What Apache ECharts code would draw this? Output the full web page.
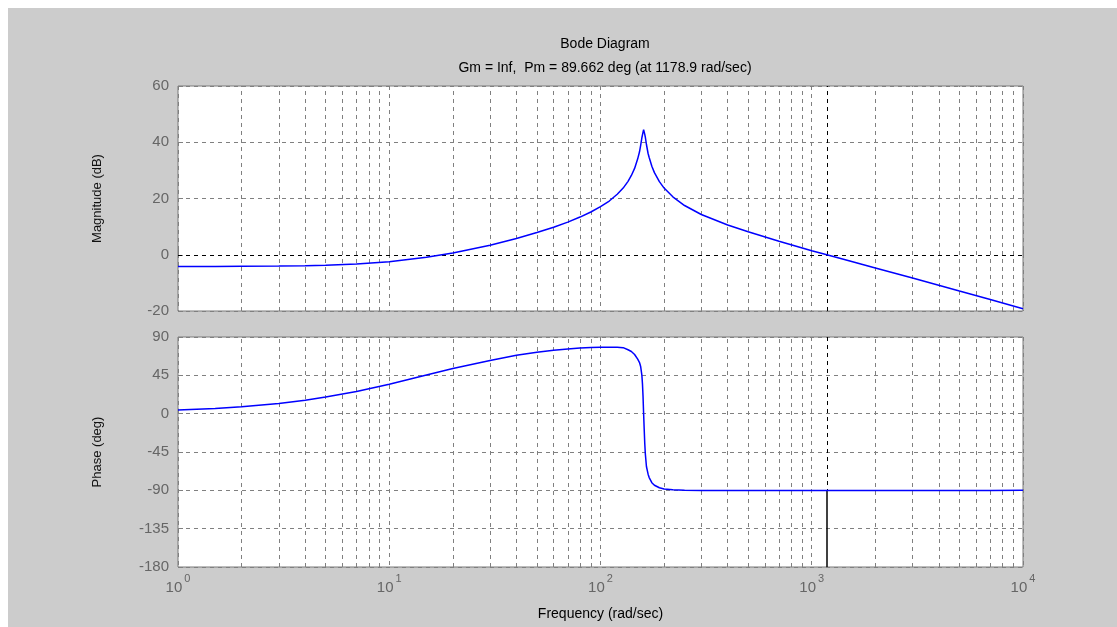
<!DOCTYPE html>
<html>
<head>
<meta charset="utf-8">
<script src="https://cdn.jsdelivr.net/npm/echarts@6/dist/echarts.min.js"></script>
<style>
  html, body { margin: 0; padding: 0; background: #ffffff; }
  #bg { position: absolute; left: 8px; top: 8px; width: 1109px; height: 619px; background: #cccccc; }
  #chart { position: absolute; left: 0; top: 0; width: 1117px; height: 627px; }
</style>
</head>
<body>
<div id="bg"></div>
<div id="chart"></div>
<script>
// ---- data ----
const freqs = [1, 1.5, 2, 3, 4, 5, 7, 10, 15, 20, 30, 40, 50, 60, 70, 80, 90, 100, 110, 120, 128, 135, 140, 145, 150, 153, 155, 157, 158, 159, 160, 161, 162, 163, 165, 168, 170, 175, 180, 190, 200, 220, 250, 300, 400, 500, 700, 1000, 1178.9, 1500, 2000, 3000, 5000, 7000, 10000];
const magnitudeDb = [-4.2, -4.15, -4.1, -4.0, -3.9, -3.7, -3.25, -2.45, -0.9, 0.65, 3.4, 5.8, 7.9, 9.8, 11.6, 13.4, 15.2, 17.1, 19.1, 21.5, 23.7, 26.1, 28.2, 30.7, 34.1, 36.6, 39.0, 41.6, 42.6, 43.6, 44.5, 43.8, 42.8, 41.8, 39.2, 36.0, 34.6, 31.5, 29.2, 26.0, 23.7, 20.6, 17.5, 14.3, 10.6, 8.2, 4.8, 1.4, 0, -2.1, -4.7, -8.3, -12.9, -15.9, -19.2];
const phaseDeg = [4.3, 6.2, 8.2, 12, 15.8, 19.5, 26, 34.5, 45.5, 53, 62.5, 68.5, 72, 74.5, 76, 77, 77.8, 78, 78, 78, 77.5, 75, 73, 69.5, 64, 60, 55, 45, 35, 20, 0, -18, -35, -47, -62, -71, -75, -81, -84, -87, -88.5, -89.3, -89.8, -90.1, -90.3, -90.3, -90.3, -90.3, -90.34, -90.3, -90.2, -90.2, -90.1, -90.1, -90.0];
const magTicks = [-20, 0, 20, 40, 60];
const phaseTicks = [-180, -135, -90, -45, 0, 45, 90];
const decadeTicks = [1, 10, 100, 1000, 10000];
const minorGridFreqs = [2, 3, 4, 5, 6, 7, 8, 9, 20, 30, 40, 50, 60, 70, 80, 90, 200, 300, 400, 500, 600, 700, 800, 900, 2000, 3000, 4000, 5000, 6000, 7000, 8000, 9000];
const crossoverFreq = 1178.9;
const phaseAtCrossover = -90.338;
const titleText = 'Bode Diagram';
const subTitleText = 'Gm = Inf,  Pm = 89.662 deg (at 1178.9 rad/sec)';

// ---- styling ----
const FONT = '"Liberation Sans", Arial, sans-serif';
const gridGray = '#808080';
const dash = [4, 4];
const tickColor = '#666666';

const magData = freqs.map((f, i) => [f, magnitudeDb[i]]);
const phaseData = freqs.map((f, i) => [f, phaseDeg[i]]);

function xAxisCfg(gridIndex, showLabels) {
  return {
    type: 'log', logBase: 10, gridIndex: gridIndex,
    min: decadeTicks[0], max: decadeTicks[decadeTicks.length - 1],
    axisLine: { show: false },
    axisTick: { show: true, inside: true, length: 5, lineStyle: { color: gridGray } },
    splitLine: { show: true, lineStyle: { color: gridGray, type: dash, width: 1 } },
    minorTick: { show: false }, minorSplitLine: { show: false },
    axisLabel: showLabels ? {
      show: true, margin: 6, color: tickColor, fontFamily: FONT,
      formatter: v => '{b|10}{s|' + Math.round(Math.log10(v)) + '}',
      rich: {
        b: { fontSize: 15, color: tickColor, fontFamily: FONT, lineHeight: 22, verticalAlign: 'bottom' },
        s: { fontSize: 11, color: tickColor, fontFamily: FONT, lineHeight: 22, verticalAlign: 'top', padding: [0, 0, 0, 2] }
      }
    } : { show: false },
    name: showLabels ? 'Frequency (rad/sec)' : '',
    nameLocation: 'middle', nameGap: 40,
    nameTextStyle: { color: '#000', fontSize: 14, fontFamily: FONT }
  };
}
function yAxisCfg(gridIndex, ticks, name) {
  return {
    type: 'value', gridIndex: gridIndex,
    min: ticks[0], max: ticks[ticks.length - 1], interval: ticks[1] - ticks[0],
    axisLine: { show: false },
    axisTick: { show: true, inside: true, length: 5, lineStyle: { color: gridGray } },
    splitLine: { show: true, lineStyle: { color: gridGray, type: dash, width: 1 } },
    axisLabel: { color: tickColor, fontSize: 15, fontFamily: FONT, margin: 9 },
    name: name, nameLocation: 'middle', nameGap: 74,
    nameTextStyle: { color: '#111', fontSize: 13, fontFamily: FONT }
  };
}
const hiddenLine = (lineStyle) => ({ symbol: ['none', 'none'], silent: true, animation: false, label: { show: false }, lineStyle: lineStyle });

const option = {
  backgroundColor: 'transparent',
  animation: false,
  title: [
    { text: titleText, left: 600, top: 32, textAlign: 'center', textStyle: { fontSize: 14, fontWeight: 'normal', color: '#000', fontFamily: FONT } },
    { text: subTitleText, left: 600, top: 56, textAlign: 'center', textStyle: { fontSize: 14, fontWeight: 'normal', color: '#000', fontFamily: FONT } }
  ],
  grid: [
    { left: 178, top: 86, width: 845, height: 225, show: true, backgroundColor: '#ffffff', borderColor: '#7a7a7a', borderWidth: 1 },
    { left: 178, top: 337, width: 845, height: 230, show: true, backgroundColor: '#ffffff', borderColor: '#7a7a7a', borderWidth: 1 }
  ],
  xAxis: [xAxisCfg(0, false), xAxisCfg(1, true)],
  yAxis: [yAxisCfg(0, magTicks, 'Magnitude (dB)'), yAxisCfg(1, phaseTicks, 'Phase (deg)')],
  series: [
    { type: 'line', xAxisIndex: 0, yAxisIndex: 0, data: [], z: 1,
      markLine: Object.assign(hiddenLine({ color: gridGray, type: dash, width: 1 }), { data: minorGridFreqs.map(f => ({ xAxis: f })) }) },
    { type: 'line', xAxisIndex: 1, yAxisIndex: 1, data: [], z: 1,
      markLine: Object.assign(hiddenLine({ color: gridGray, type: dash, width: 1 }), { data: minorGridFreqs.map(f => ({ xAxis: f })) }) },
    { type: 'line', xAxisIndex: 0, yAxisIndex: 0, data: [], z: 2,
      markLine: Object.assign(hiddenLine({ color: '#000', type: dash, width: 1 }), { data: [{ yAxis: 0 }, { xAxis: crossoverFreq }] }) },
    { type: 'line', xAxisIndex: 1, yAxisIndex: 1, data: [], z: 2,
      markLine: Object.assign(hiddenLine({ color: '#000', type: dash, width: 1 }), { data: [[{ coord: [crossoverFreq, phaseTicks[phaseTicks.length - 1]] }, { coord: [crossoverFreq, phaseAtCrossover] }]] }) },
    { type: 'line', xAxisIndex: 1, yAxisIndex: 1, data: [], z: 2,
      markLine: Object.assign(hiddenLine({ color: '#000', type: 'solid', width: 1.5 }), { data: [[{ coord: [crossoverFreq, phaseAtCrossover] }, { coord: [crossoverFreq, phaseTicks[0]] }]] }) },
    { name: 'Magnitude', type: 'line', xAxisIndex: 0, yAxisIndex: 0, data: magData, showSymbol: false, symbol: 'none', z: 5,
      lineStyle: { color: '#0000ff', width: 1.5 } },
    { name: 'Phase', type: 'line', xAxisIndex: 1, yAxisIndex: 1, data: phaseData, showSymbol: false, symbol: 'none', z: 5,
      lineStyle: { color: '#0000ff', width: 1.5 } }
  ]
};
const chart = echarts.init(document.getElementById('chart'), null, { renderer: 'canvas' });
chart.setOption(option);
</script>
</body>
</html>
